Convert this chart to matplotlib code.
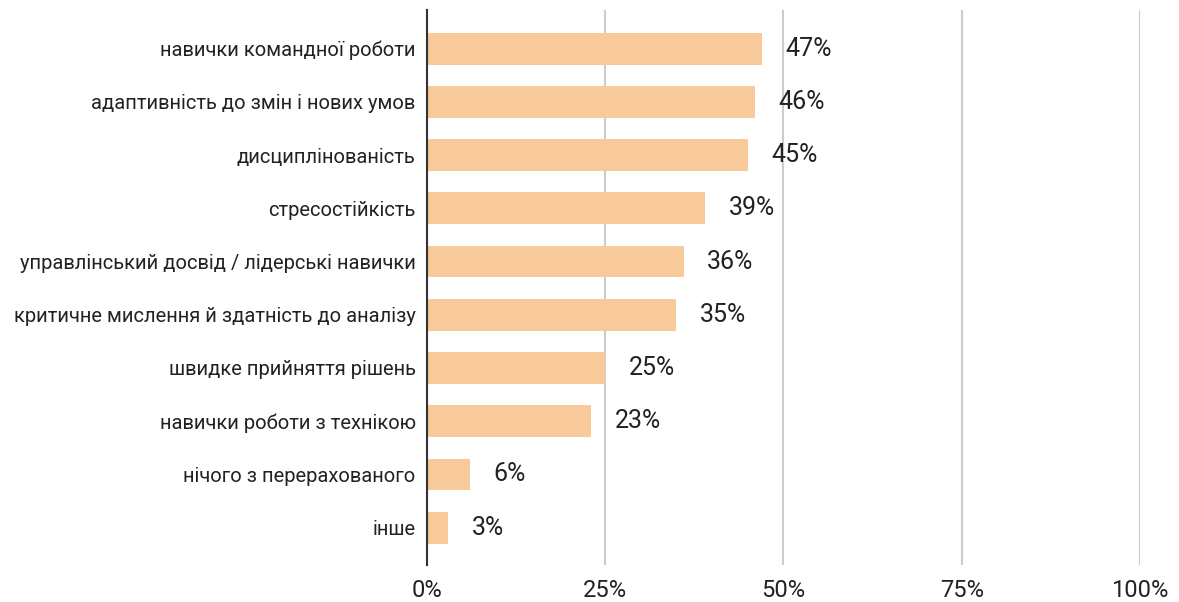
import matplotlib.pyplot as plt

plt.rcParams['font.family'] = ['Roboto', 'DejaVu Sans']

# data
categories = [
    "навички командної роботи",
    "адаптивність до змін і нових умов",
    "дисциплінованість",
    "стресостійкість",
    "управлінський досвід / лідерські навички",
    "критичне мислення й здатність до аналізу",
    "швидке прийняття рішень",
    "навички роботи з технікою",
    "нічого з перерахованого",
    "інше",
]
values = [47, 46, 45, 39, 36, 35, 25, 23, 6, 3]
xticks = [0, 25, 50, 75, 100]
xtick_labels = ["0%", "25%", "50%", "75%", "100%"]

fig = plt.figure(figsize=(11.79, 6.02), dpi=100)
ax = fig.add_axes([0.362, 0.0615, 0.605, 0.9215])

ypos = list(range(len(categories)))
ax.barh(ypos, values, height=0.6, color="#F7C99B", zorder=3)

for y, v in zip(ypos, values):
    ax.annotate(f"{v}%", (v, y), xytext=(17, 0), textcoords="offset points",
                va="center", ha="left", fontsize=18, color="#222222")

ax.set_xlim(0, 100)
ax.set_ylim(9.7, -0.72)
ax.set_xticks(xticks)
ax.set_xticklabels(xtick_labels, fontsize=17, color="#222222")
ax.set_yticks(ypos)
ax.set_yticklabels(categories, fontsize=14.5, color="#222222")
ax.tick_params(axis="both", length=0)
ax.tick_params(axis="x", pad=10)
ax.tick_params(axis="y", pad=8)

ax.grid(axis="x", color="#cccccc", linewidth=1.5, zorder=0)
for s in ["top", "right", "bottom"]:
    ax.spines[s].set_visible(False)
ax.spines["left"].set_color("#333333")
ax.spines["left"].set_linewidth(1.5)
ax.spines["left"].set_zorder(4)

plt.savefig("out.png", dpi=100)
